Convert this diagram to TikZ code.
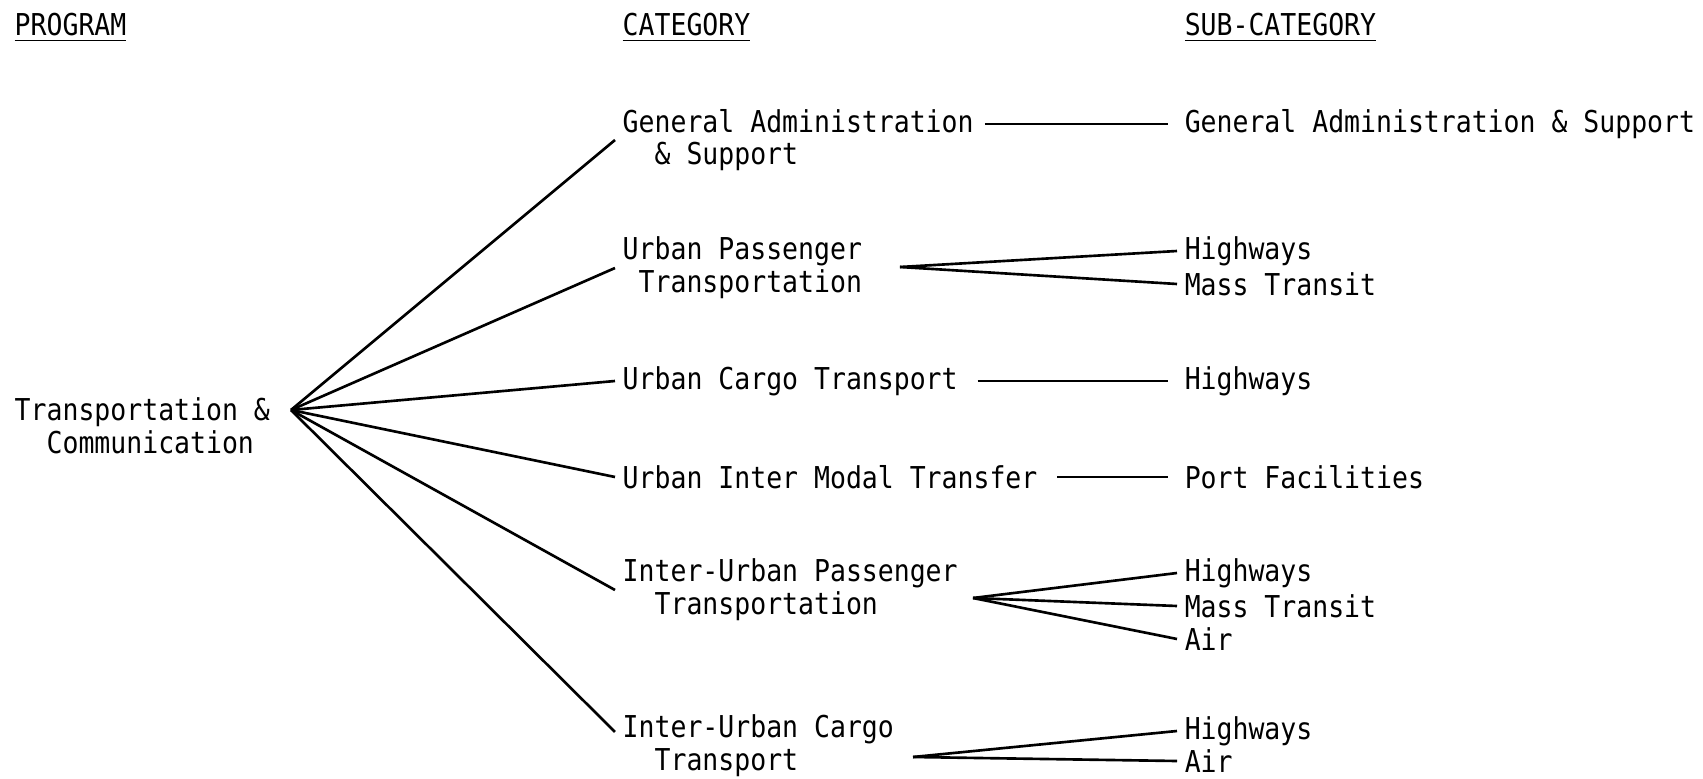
\documentclass[tikz,border=0pt]{standalone}
\usepackage{fontspec}
\newfontfamily\typer[FakeStretch=0.88]{DejaVu Sans Mono}
\begin{document}
\begin{tikzpicture}[x=0.01cm, y=-0.01cm,
  txt/.style={anchor=west, inner sep=2pt, align=left, font=\typer\fontsize{8.56}{9.28}\selectfont},
  link/.style={line width=0.75pt},
  flat/.style={line width=0.75pt, shorten <=3.5pt, shorten >=2.5pt}]
\useasboundingbox (0,0) rectangle (1703,779);

% column heads
\node (prog) [txt] at (7,28) {\underline{PROGRAM}};
\node (cat) [txt] at (615,28) {\underline{CATEGORY}};
\node (sub) [txt] at (1177,28) {\underline{SUB-CATEGORY}};

% program
\node (root) [txt] at (7,426) {Transportation \&\\\phantom{xx}Communication};
\coordinate (hub) at (291,410);

% categories
\node (ga) [txt] at (615,140) {General Administration\\\phantom{xx}\& Support};
\node (upt) [txt] at (615,268) {Urban Passenger\\\phantom{x}Transportation};
\node (uct) [txt] at (615,381) {Urban Cargo Transport};
\node (uimt) [txt] at (615,477) {Urban Inter Modal Transfer};
\node (iupt) [txt] at (615,590) {Inter-Urban Passenger\\\phantom{xx}Transportation};
\node (iuct) [txt] at (615,746) {Inter-Urban Cargo\\\phantom{xx}Transport};

% sub-categories
\node (gas) [txt] at (1177,124) {General Administration \& Support};
\node (upt-h) [txt] at (1177,251) {Highways};
\node (upt-m) [txt] at (1177,284) {Mass Transit};
\node (uct-h) [txt] at (1177,381) {Highways};
\node (uimt-p) [txt] at (1177,477) {Port Facilities};
\node (iupt-h) [txt] at (1177,573) {Highways};
\node (iupt-m) [txt] at (1177,606) {Mass Transit};
\node (iupt-a) [txt] at (1177,639) {Air};
\node (iuct-h) [txt] at (1177,731) {Highways};
\node (iuct-a) [txt] at (1177,761) {Air};

\coordinate (upt-j) at (900,267);
\coordinate (iupt-j) at (973,598);
\coordinate (iuct-j) at (913,757);

\draw [link] (hub) -- (ga.west);
\draw [link] (hub) -- (upt.west);
\draw [link] (hub) -- (uct.west);
\draw [link] (hub) -- (uimt.west);
\draw [link] (hub) -- (iupt.west);
\draw [link] (hub) -- ([yshift=4pt]iuct.west);

\draw [flat, shorten <=1pt] (ga.east |- gas.west) -- (gas.west);
\draw [flat] (uct) -- (uct-h);
\draw [flat] (uimt) -- (uimt-p);

\draw [link] (upt-j) -- (upt-h.west);
\draw [link] (upt-j) -- (upt-m.west);
\draw [link] (iupt-j) -- (iupt-h.west);
\draw [link] (iupt-j) -- (iupt-m.west);
\draw [link] (iupt-j) -- (iupt-a.west);
\draw [link] (iuct-j) -- (iuct-h.west);
\draw [link] (iuct-j) -- (iuct-a.west);
\end{tikzpicture}
\end{document}
